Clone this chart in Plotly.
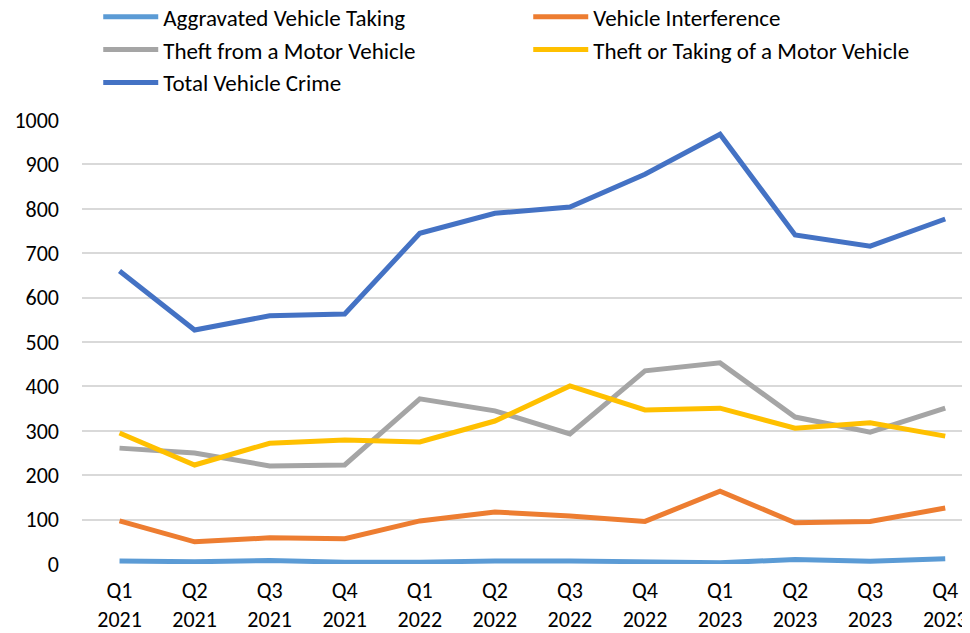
import plotly.graph_objects as go

# quarter labels
quarters = ["Q1<br>2021", "Q2<br>2021", "Q3<br>2021", "Q4<br>2021",
            "Q1<br>2022", "Q2<br>2022", "Q3<br>2022", "Q4<br>2022",
            "Q1<br>2023", "Q2<br>2023", "Q3<br>2023", "Q4<br>2023"]

aggravated = [7, 5, 8, 4, 4, 7, 7, 5, 3, 10, 6, 12]
interference = [97, 50, 59, 57, 97, 117, 108, 96, 164, 93, 96, 126]
theft_from = [261, 250, 221, 223, 372, 345, 293, 435, 453, 331, 297, 351]
theft_taking = [295, 223, 272, 279, 275, 322, 401, 347, 351, 306, 318, 288]
total = [660, 527, 559, 563, 745, 790, 804, 878, 968, 741, 716, 777]

series = [
    ("Aggravated Vehicle Taking", aggravated, "#5B9BD5"),
    ("Vehicle Interference", interference, "#ED7D31"),
    ("Theft from a Motor Vehicle", theft_from, "#A5A5A5"),
    ("Theft or Taking of a Motor Vehicle", theft_taking, "#FFC000"),
    ("Total Vehicle Crime", total, "#4472C4"),
]

FONT = "Carlito, Calibri, Lato, sans-serif"

fig = go.Figure()
x = list(range(len(quarters)))
for name, vals, color in series:
    fig.add_trace(go.Scatter(x=x, y=vals, name=name, mode="lines",
                             line=dict(color=color, width=5)))

# page body adds an 8px margin, so the figure is 8px smaller each way
fig.update_layout(
    width=962, height=625,
    margin=dict(l=74, r=0, t=112, b=69, autoexpand=False),
    plot_bgcolor="white", paper_bgcolor="white",
    font=dict(family=FONT, size=22, color="#000000"),
    showlegend=True,
    legend=dict(orientation="h", xref="container", yref="paper",
                x=0.0938, y=1.281, xanchor="left", yanchor="top",
                entrywidth=360, font=dict(size=23), itemwidth=55,
                bgcolor="rgba(0,0,0,0)"),
    xaxis=dict(tickmode="array", tickvals=x, ticktext=quarters,
               range=[-0.5, 11.33], showgrid=False, zeroline=False,
               showline=False, ticks="", ticklabelstandoff=11),
    yaxis=dict(range=[0, 1000], dtick=100, showgrid=True, gridcolor="#D9D9D9",
               gridwidth=1.5, zeroline=False, showline=False, ticks="",
               ticklabelstandoff=22),
)

fig.write_html("out.html")
